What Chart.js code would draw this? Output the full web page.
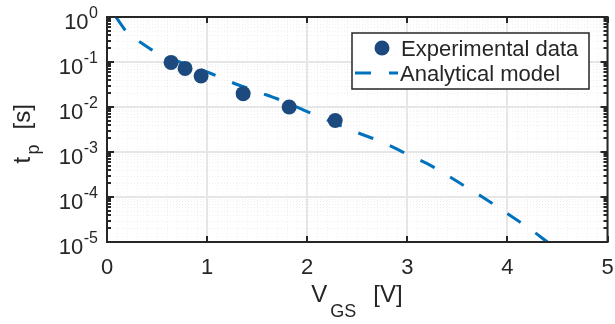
<!DOCTYPE html>
<html>
<head>
<meta charset="utf-8">
<script src="https://cdn.jsdelivr.net/npm/chart.js@4.4.1/dist/chart.umd.min.js"></script>
<style>
  html, body { margin: 0; padding: 0; background: #fff; }
  canvas { display: block; }
</style>
</head>
<body>
<canvas id="tpChart" width="615" height="324"></canvas>
<script>
const expVgs = [0.64, 0.78, 0.94, 1.36, 1.82, 2.28];
const expTp = [0.098, 0.072, 0.049, 0.0198, 0.0100, 0.0050];

// analytical model curve
const modelVgs = [0.09, 0.2, 0.35, 0.5, 0.75, 1.0, 1.25, 1.5, 1.75, 2.0, 2.25, 2.5, 2.75, 3.0, 3.25, 3.5, 3.75, 4.0, 4.25, 4.4];
const modelTp = [1.0, 0.46, 0.26, 0.16, 0.095, 0.06, 0.035, 0.022, 0.0138, 0.0079, 0.0046, 0.0027, 0.00166, 0.00089, 0.00048, 0.00022, 0.0001, 0.000043, 0.0000178, 0.00001];

// tick labels
const xTickValues = [0, 1, 2, 3, 4, 5];
const yTickValues = [1, 1e-1, 1e-2, 1e-3, 1e-4, 1e-5];
const yTickExps = ['0', '-1', '-2', '-3', '-4', '-5'];

const FONT = "'Liberation Sans', Arial, Helvetica, sans-serif";
const TXT = '#262626';
const MARKER = '#1D4A7E';
const LINE = '#0072BD';
const DASH = [16, 18];

function line(ctx, x1, y1, x2, y2) {
    ctx.beginPath();
    ctx.moveTo(x1, y1);
    ctx.lineTo(x2, y2);
    ctx.stroke();
}

const axesPlugin = {
    id: 'matlabAxes',
    beforeDatasetsDraw(chart) {
        const { ctx, chartArea: a, scales: { x, y } } = chart;
        ctx.save();
        // minor grid (dotted)
        ctx.strokeStyle = 'rgba(0,0,0,0.06)';
        ctx.lineWidth = 1;
        ctx.setLineDash([1, 2]);
        for (let i = 1; i < 50; i++) {
            if (i % 10 === 0) continue;
            const px = Math.round(x.getPixelForValue(i / 10)) + 0.5;
            line(ctx, px, a.top, px, a.bottom);
        }
        for (let e = -5; e < 0; e++) {
            for (let k = 2; k <= 9; k++) {
                const py = Math.round(y.getPixelForValue(k * Math.pow(10, e))) + 0.5;
                line(ctx, a.left, py, a.right, py);
            }
        }
        // major grid
        ctx.setLineDash([]);
        ctx.strokeStyle = '#e6e6e6';
        ctx.lineWidth = 2;
        xTickValues.forEach(v => {
            const px = Math.round(x.getPixelForValue(v));
            line(ctx, px, a.top, px, a.bottom);
        });
        yTickValues.forEach(v => {
            const py = Math.round(y.getPixelForValue(v));
            line(ctx, a.left, py, a.right, py);
        });
        ctx.restore();
    },
    afterDatasetsDraw(chart) {
        const { ctx, chartArea: a, scales: { x, y } } = chart;
        ctx.save();
        ctx.strokeStyle = TXT;
        ctx.lineWidth = 2;
        ctx.strokeRect(a.left, a.top, a.right - a.left, a.bottom - a.top);

        // ticks
        xTickValues.forEach(v => {
            const px = Math.round(x.getPixelForValue(v));
            line(ctx, px, a.bottom, px, a.bottom - 6);
            line(ctx, px, a.top, px, a.top + 6);
        });
        yTickValues.forEach(v => {
            const py = Math.round(y.getPixelForValue(v));
            line(ctx, a.left, py, a.left + 7, py);
            line(ctx, a.right, py, a.right - 7, py);
        });
        for (let e = -5; e < 0; e++) {
            for (let k = 2; k <= 9; k++) {
                const py = Math.round(y.getPixelForValue(k * Math.pow(10, e)));
                line(ctx, a.left, py, a.left + 4, py);
                line(ctx, a.right, py, a.right - 4, py);
            }
        }

        // tick labels
        ctx.fillStyle = TXT;
        ctx.textBaseline = 'alphabetic';
        ctx.font = '22px ' + FONT;
        ctx.textAlign = 'center';
        xTickValues.forEach(v => {
            ctx.fillText(String(v), x.getPixelForValue(v), a.bottom + 32);
        });
        ctx.textAlign = 'right';
        const rx = a.left - 9;
        yTickValues.forEach((v, i) => {
            const py = y.getPixelForValue(v);
            ctx.font = '16px ' + FONT;
            const ew = ctx.measureText(yTickExps[i]).width;
            ctx.fillText(yTickExps[i], rx, py + 1);
            ctx.font = '22px ' + FONT;
            ctx.fillText('10', rx - ew - 0.5, py + 12);
        });

        // x title: V_GS [V]
        const cx = (a.left + a.right) / 2;
        ctx.textAlign = 'left';
        ctx.font = '24px ' + FONT;
        ctx.fillText('V', cx - 46, 302);
        ctx.font = '18px ' + FONT;
        ctx.fillText('GS', cx - 27, 317);
        ctx.font = '24px ' + FONT;
        ctx.fillText('[V]', cx + 16, 302);

        // y title: t_p [s]
        const cy = (a.top + a.bottom) / 2;
        ctx.save();
        ctx.translate(30, cy);
        ctx.rotate(-Math.PI / 2);
        ctx.font = '24px ' + FONT;
        ctx.fillText('t', -34, 0);
        ctx.font = '18px ' + FONT;
        ctx.fillText('p', -25, 9);
        ctx.font = '24px ' + FONT;
        ctx.fillText('[s]', 0, 0);
        ctx.restore();

        // legend
        ctx.fillStyle = '#fff';
        ctx.fillRect(352, 33, 237, 56);
        ctx.lineWidth = 1.5;
        ctx.strokeStyle = TXT;
        ctx.strokeRect(352, 33, 237, 56);
        ctx.fillStyle = MARKER;
        ctx.beginPath();
        ctx.arc(382, 48, 7.5, 0, Math.PI * 2);
        ctx.fill();
        ctx.strokeStyle = LINE;
        ctx.lineWidth = 3;
        ctx.setLineDash(DASH);
        line(ctx, 355, 73, 398, 73);
        ctx.setLineDash([]);
        ctx.fillStyle = TXT;
        ctx.font = '22px ' + FONT;
        ctx.fillText('Experimental data', 401, 56);
        ctx.fillText('Analytical model', 400, 81);
        ctx.restore();
    }
};

new Chart(document.getElementById('tpChart'), {
    type: 'scatter',
    data: {
        datasets: [
            {
                label: 'Experimental data',
                data: expVgs.map((v, i) => ({ x: v, y: expTp[i] })),
                pointRadius: 7.5,
                pointBackgroundColor: MARKER,
                pointBorderWidth: 0,
                order: 0
            },
            {
                label: 'Analytical model',
                type: 'line',
                data: modelVgs.map((v, i) => ({ x: v, y: modelTp[i] })),
                borderColor: LINE,
                borderWidth: 3,
                borderDash: DASH,
                borderCapStyle: 'butt',
                cubicInterpolationMode: 'monotone',
                pointRadius: 0,
                fill: false,
                order: 1
            }
        ]
    },
    options: {
        responsive: false,
        animation: false,
        layout: { padding: { top: 17, right: 6, left: 0, bottom: 0 } },
        plugins: { legend: { display: false }, tooltip: { enabled: false } },
        scales: {
            x: {
                type: 'linear', min: 0, max: 5,
                ticks: { display: false },
                grid: { display: false },
                border: { display: false },
                afterFit(s) { s.height = 82; }
            },
            y: {
                type: 'logarithmic', min: 1e-5, max: 1,
                ticks: { display: false },
                grid: { display: false },
                border: { display: false },
                afterFit(s) { s.width = 107; }
            }
        }
    },
    plugins: [axesPlugin]
});
</script>
</body>
</html>
